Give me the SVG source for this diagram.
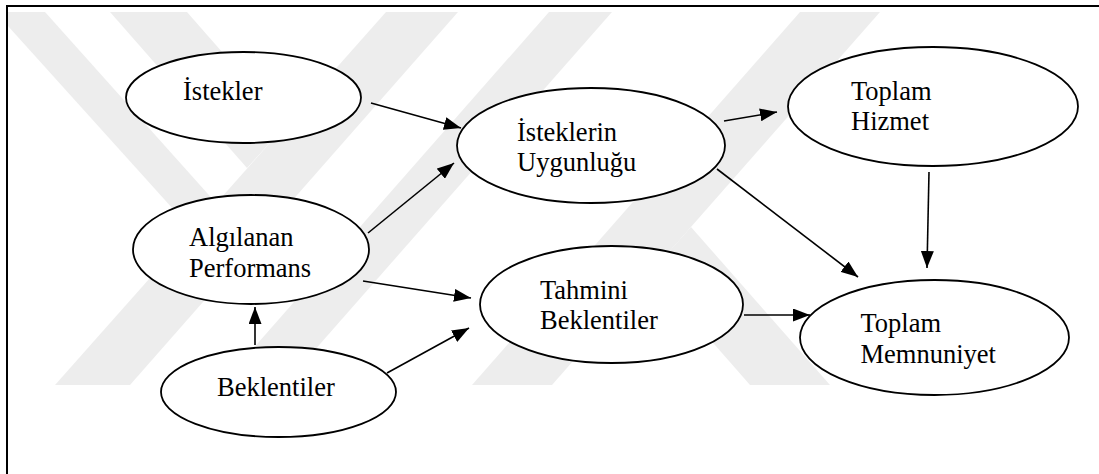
<svg xmlns="http://www.w3.org/2000/svg" width="1099" height="474" viewBox="0 0 1099 474">
<style>
.wm{fill:#ededed;stroke:none}
.node ellipse{fill:#ffffff;stroke:#000;stroke-width:1.8}
.node text{font-family:"Liberation Serif","Times New Roman",serif;font-size:26.5px;fill:#000}
.edge{stroke:#000;stroke-width:1.6;fill:none;marker-end:url(#ah)}
</style>
<defs>
<marker id="ah" markerUnits="userSpaceOnUse" markerWidth="17" markerHeight="13" refX="17" refY="6.5" orient="auto">
<path d="M0,0 L17,6.5 L0,13 z" fill="#000"/>
</marker>
</defs>
<rect x="0" y="0" width="1099" height="474" fill="#ffffff"/>
<g id="watermark">
<polygon class="wm" points="386,12 458,12 130,385 55,385"/>
<polygon class="wm" points="110,12 187,12 286,125 247,168"/>
<polygon class="wm" points="8,12 45,12 216,203 192,230 8,26"/>
<polygon class="wm" points="549,12 612,12 284,385 221,385"/>
<polygon class="wm" points="800,12 880,12 552,385 472,385"/>
<polygon class="wm" points="691,227 830,385 750,385 651,272"/>
</g>
<path d="M7,474 V6 H1099" fill="none" stroke="#000" stroke-width="2"/>
<g id="connectors">
<line class="edge" x1="371" y1="103" x2="461" y2="128"/>
<line class="edge" x1="368" y1="233" x2="454" y2="163"/>
<line class="edge" x1="724" y1="121" x2="777" y2="112"/>
<line class="edge" x1="717" y1="169" x2="858" y2="277"/>
<line class="edge" x1="929" y1="172" x2="927" y2="268"/>
<line class="edge" x1="744" y1="315" x2="810" y2="315"/>
<line class="edge" x1="363" y1="281" x2="471" y2="298"/>
<line class="edge" x1="387" y1="373" x2="469" y2="328"/>
<line class="edge" x1="255" y1="345" x2="255" y2="307"/>
</g>
<g id="istekler" class="node">
<ellipse cx="243.5" cy="97.5" rx="117.5" ry="45.5"/>
<text x="183" y="100">İstekler</text>
</g>
<g id="algilanan-performans" class="node">
<ellipse cx="251" cy="249.5" rx="118" ry="54.5"/>
<text x="189" y="246">Algılanan</text>
<text x="189" y="277">Performans</text>
</g>
<g id="beklentiler" class="node">
<ellipse cx="278.5" cy="392" rx="117.5" ry="45"/>
<text x="217" y="396">Beklentiler</text>
</g>
<g id="isteklerin-uygunlugu" class="node">
<ellipse cx="591" cy="145.5" rx="134" ry="57.5"/>
<text x="517" y="140.5">İsteklerin</text>
<text x="517" y="171">Uygunluğu</text>
</g>
<g id="toplam-hizmet" class="node">
<ellipse cx="933" cy="106.5" rx="145" ry="59.5"/>
<text x="851" y="100">Toplam</text>
<text x="851" y="129.5">Hizmet</text>
</g>
<g id="tahmini-beklentiler" class="node">
<ellipse cx="611.5" cy="304.5" rx="131.5" ry="58.5"/>
<text x="540" y="298.5">Tahmini</text>
<text x="540" y="328.5">Beklentiler</text>
</g>
<g id="toplam-memnuniyet" class="node">
<ellipse cx="934.5" cy="337.5" rx="134.5" ry="57.5"/>
<text x="860.5" y="331.5">Toplam</text>
<text x="860.5" y="362.5">Memnuniyet</text>
</g>
</svg>
